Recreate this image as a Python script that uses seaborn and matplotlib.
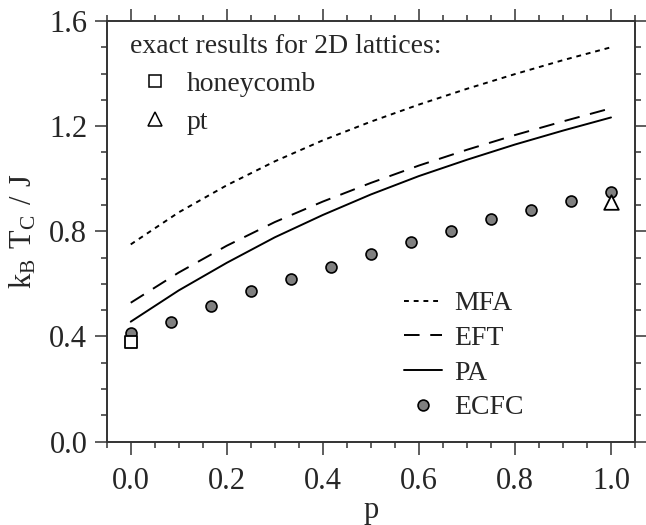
import numpy as np
import matplotlib
matplotlib.use("Agg")
import matplotlib.pyplot as plt
from matplotlib.lines import Line2D
from matplotlib.ticker import MultipleLocator
import seaborn as sns

# curves
p_curve = [0.0, 0.1, 0.2, 0.3, 0.4, 0.5, 0.6, 0.7, 0.8, 0.9, 1.0]
mfa = [0.75, 0.872, 0.975, 1.066, 1.146, 1.217, 1.282, 1.342, 1.398, 1.451, 1.50]
eft = [0.528, 0.643, 0.745, 0.835, 0.913, 0.984, 1.05, 1.11, 1.166, 1.218, 1.268]
pa = [0.456, 0.575, 0.68, 0.777, 0.862, 0.94, 1.01, 1.072, 1.13, 1.183, 1.233]

# ECFC points, p = k/12
p_ecfc = [k / 12 for k in range(13)]
ecfc = [0.414, 0.453, 0.517, 0.571, 0.617, 0.663, 0.715, 0.760, 0.80, 0.847, 0.882, 0.917, 0.949]

# exact results
p_honey, tc_honey = [0.0], [0.3797]
p_pt, tc_pt = [1.0], [0.9102]

sns.set_style("ticks")
plt.rcParams['font.family'] = ['Liberation Serif', 'DejaVu Serif']
plt.rcParams['mathtext.fontset'] = 'custom'
plt.rcParams['mathtext.rm'] = 'Liberation Serif'

fig = plt.figure(figsize=(6.46, 5.25), dpi=100)
ax = fig.add_axes([0.1652, 0.159, 0.8178, 0.801])

lw = 1.4
sns.lineplot(x=p_curve, y=mfa, ax=ax, color='black', lw=lw, linestyle=(0, (2.5, 2.5)))
sns.lineplot(x=p_curve, y=eft, ax=ax, color='black', lw=lw, linestyle=(0, (8, 5.5)))
sns.lineplot(x=p_curve, y=pa, ax=ax, color='black', lw=lw)
sns.scatterplot(x=p_ecfc, y=ecfc, ax=ax, s=62, color='#808080', edgecolor='black',
                linewidth=1.2, zorder=3)
sns.scatterplot(x=p_honey, y=tc_honey, ax=ax, marker='s', s=85, color='white',
                edgecolor='black', linewidth=1.3, zorder=4)
sns.scatterplot(x=p_pt, y=tc_pt, ax=ax, marker='^', s=110, color='white',
                edgecolor='black', linewidth=1.3, zorder=4)

ax.set_xlim(-0.05, 1.05)
ax.set_ylim(0.0, 1.6)
ax.xaxis.set_major_locator(MultipleLocator(0.2))
ax.xaxis.set_minor_locator(MultipleLocator(0.05))
ax.yaxis.set_major_locator(MultipleLocator(0.4))
ax.yaxis.set_minor_locator(MultipleLocator(0.1))
ax.xaxis.set_major_formatter(plt.FormatStrFormatter('%.1f'))
ax.yaxis.set_major_formatter(plt.FormatStrFormatter('%.1f'))

spine_col = '#333333'
for s in ax.spines.values():
    s.set_visible(True)
    s.set_linewidth(1.4)
    s.set_color(spine_col)
ax.tick_params(which='both', direction='out', top=True, right=True,
               labeltop=False, labelright=False, color=spine_col, width=1.1,
               labelsize=22)
ax.tick_params(which='major', length=9, pad=5)
ax.tick_params(axis='x', which='major', pad=9)
ax.tick_params(which='minor', length=4.5)

ax.set_xlabel('p', fontsize=22, labelpad=0)
ax.set_ylabel(r'$\mathrm{k_B\ T_C\ /\ J}$', fontsize=22, labelpad=8)

# legend for exact results
h_ex = [Line2D([], [], ls='none', marker='s', ms=9, mfc='white', mec='black', mew=1.1),
        Line2D([], [], ls='none', marker='^', ms=10, mfc='white', mec='black', mew=1.1)]
leg1 = ax.legend(h_ex, ['honeycomb', 'pt'], title='exact results for 2D lattices:',
                 loc='upper left', bbox_to_anchor=(0.044, 0.97), frameon=False,
                 fontsize=20, title_fontsize=20, alignment='left', borderpad=0,
                 borderaxespad=0, handlelength=1.8, handletextpad=0.25,
                 labelspacing=0.45)
leg1._legend_box.sep = 9
ax.add_artist(leg1)

# legend for methods
h_m = [Line2D([], [], color='black', lw=lw, ls=(0, (2.5, 2.5))),
       Line2D([], [], color='black', lw=lw, ls=(0, (8, 5.5))),
       Line2D([], [], color='black', lw=lw),
       Line2D([], [], ls='none', marker='o', ms=7.8, mfc='#808080', mec='black', mew=1.2)]
ax.legend(h_m, ['MFA', 'EFT', 'PA', 'ECFC'], loc='upper left',
          bbox_to_anchor=(0.563, 0.358), frameon=False, fontsize=20, borderpad=0,
          borderaxespad=0, handlelength=1.35, handletextpad=0.45, labelspacing=0.33)

plt.savefig('out.png', dpi=100)
